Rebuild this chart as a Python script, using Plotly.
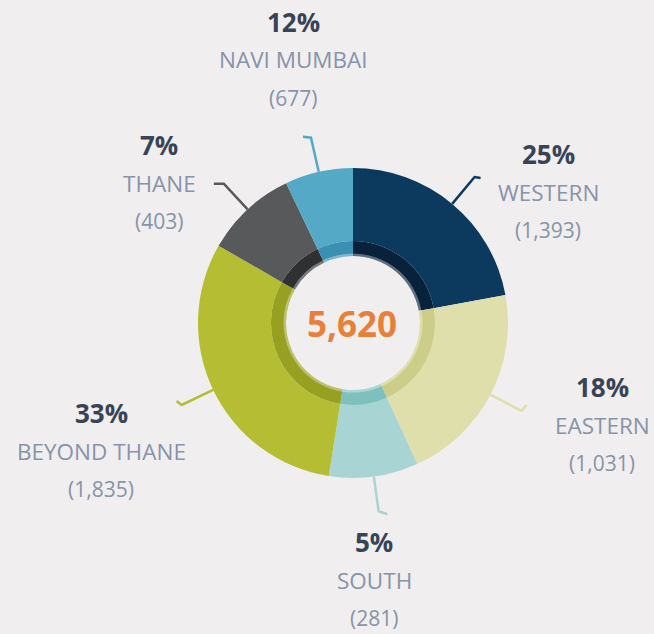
import math
import plotly.graph_objects as go

# ---------------- data ----------------
regions = ["WESTERN", "EASTERN", "SOUTH", "BEYOND THANE", "THANE", "NAVI MUMBAI"]
counts = [1393, 1031, 281, 1835, 403, 677]
pct_labels = ["25%", "18%", "5%", "33%", "7%", "12%"]
total_label = "5,620"
# arc shares (%) as actually drawn in the reference donut
arc_share = [22.1, 21.1, 9.3, 30.8, 9.6, 7.1]

# ---------------- style ----------------
outer_colors = ["#0b3a5e", "#dfdfac", "#a8d5d3", "#b5bd33", "#58595b", "#54aac6"]
inner_colors = ["#07223a", "#cccd88", "#7dc0bc", "#98a021", "#2f3032", "#3b8fb2"]
W, H = 654, 634
CX, CY = 353, 323
R_OUT, R_MID, R_IN = 155, 82, 67
BG = "#f0eeef"

label_pos = [(548, 154), (602, 387), (374, 542), (101, 413), (159, 145), (293, 22)]
hooks = [(6, 1), (5, -6), (9, 3), (-5, -4), (-10, 0), (-8, -1)]
R_ELBOW = 190


def px(x, y):
    return x / W, 1 - y / H


def dom(r):
    return dict(x=[(CX - r) / W, (CX + r) / W], y=[(H - CY - r) / H, (H - CY + r) / H])


fig = go.Figure()
common = dict(values=arc_share, labels=regions, sort=False, direction="clockwise",
              rotation=0, textinfo="none", hoverinfo="skip", showlegend=False)
fig.add_trace(go.Pie(**common, hole=R_MID / R_OUT, domain=dom(R_OUT),
                     marker=dict(colors=outer_colors, line=dict(width=0))))
fig.add_trace(go.Pie(**common, hole=R_IN / R_MID, domain=dom(R_MID),
                     marker=dict(colors=inner_colors, line=dict(width=0))))
fig.add_trace(go.Pie(**common, hole=R_IN / (R_IN + 2.5), domain=dom(R_IN + 2.5),
                     marker=dict(colors=["rgba(255,255,255,0.35)"] * 6, line=dict(width=0))))

# leader lines from slice mid-angles
shapes = []
cum = 0.0
tot = sum(arc_share)
for i, s in enumerate(arc_share):
    mid = (cum + s / 2) / tot * 2 * math.pi
    cum += s
    x0, y0 = CX + R_OUT * math.sin(mid), CY - R_OUT * math.cos(mid)
    x1, y1 = CX + R_ELBOW * math.sin(mid), CY - R_ELBOW * math.cos(mid)
    x2, y2 = x1 + hooks[i][0], y1 + hooks[i][1]
    pts = [px(x0, y0), px(x1, y1), px(x2, y2)]
    path = "M {} {} L {} {} L {} {}".format(*[v for p in pts for v in p])
    shapes.append(dict(type="path", xref="paper", yref="paper", path=path,
                       line=dict(color=outer_colors[i], width=2.5)))

ann = []
for i, name in enumerate(regions):
    x, y = label_pos[i]
    ann.append(dict(x=px(x, y)[0], y=px(x, y)[1], text="<b>%s</b>" % pct_labels[i],
                    font=dict(family="Open Sans", size=26, color="#384456")))
    ann.append(dict(x=px(x, y + 38)[0], y=px(x, y + 38)[1], text=name,
                    font=dict(family="Open Sans", size=22.5, color="#8794a9")))
    ann.append(dict(x=px(x, y + 76)[0], y=px(x, y + 76)[1], text="(%s)" % format(counts[i], ","),
                    font=dict(family="Open Sans", size=21, color="#8794a9")))
ann.append(dict(x=px(CX - 1, CY)[0], y=px(CX - 1, CY)[1], text="<b>%s</b>" % total_label,
                font=dict(family="Open Sans", size=35, color="#e8803a")))
for a in ann:
    a.update(xref="paper", yref="paper", showarrow=False, xanchor="center", yanchor="middle")

fig.update_layout(width=W, height=H, margin=dict(l=0, r=0, t=0, b=0),
                  paper_bgcolor=BG, plot_bgcolor=BG, shapes=shapes, annotations=ann)
fig.write_html("out.html", config={"displayModeBar": False},
               post_script="document.body.style.margin='0';document.body.style.background='%s';" % BG)
